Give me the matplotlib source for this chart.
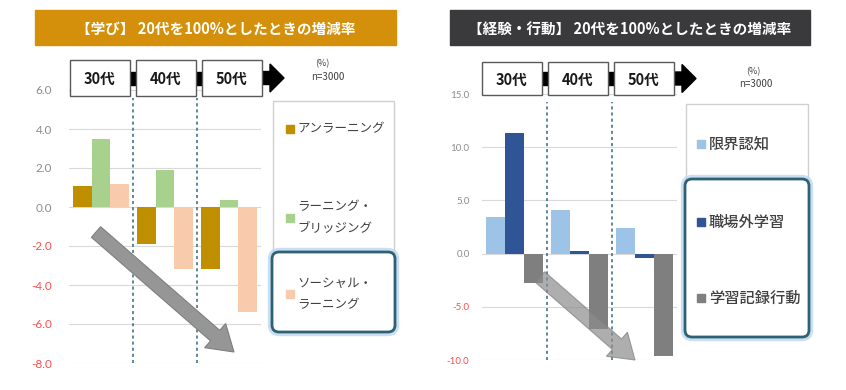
import numpy as np
import matplotlib
matplotlib.use("Agg")
import matplotlib.pyplot as plt
from matplotlib.patches import Rectangle, FancyBboxPatch, FancyArrow, Polygon

plt.rcParams['font.family'] = ['Noto Sans CJK JP', 'DejaVu Sans']

# data
ages = ["30代", "40代", "50代"]

left_title = "【学び】 20代を100%としたときの増減率"
left_names = ["アンラーニング", "ラーニング・\nブリッジング", "ソーシャル・\nラーニング"]
left_values = [
    [1.1, -1.9, -3.2],
    [3.5, 1.9, 0.35],
    [1.2, -3.2, -5.4],
]
left_colors = ["#BF8F00", "#A9D18E", "#F8CBAD"]
left_ticks = [6.0, 4.0, 2.0, 0.0, -2.0, -4.0, -6.0, -8.0]

right_title = "【経験・行動】 20代を100%としたときの増減率"
right_names = ["限界認知", "職場外学習", "学習記録行動"]
right_values = [
    [3.4, 4.1, 2.4],
    [11.3, 0.2, -0.4],
    [-2.8, -7.1, -9.6],
]
right_colors = ["#9DC3E6", "#2F5597", "#7F7F7F"]
right_ticks = [15.0, 10.0, 5.0, 0.0, -5.0, -10.0]

W, H = 846, 390
fig = plt.figure(figsize=(W / 100, H / 100), dpi=100)


def px_axes(x0, y0, x1, y1):
    return fig.add_axes([x0 / W, 1 - y1 / H, (x1 - x0) / W, (y1 - y0) / H])


def draw_bars(ax, values, colors, ticks, pad, tsize):
    x = np.arange(len(ages))
    w = 0.29
    for i, (vals, c) in enumerate(zip(values, colors)):
        ax.bar(x + (i - 1) * w, vals, w, color=c, zorder=2)
    ax.set_xlim(-0.5, len(ages) - 0.5)
    ax.set_ylim(min(ticks), max(ticks))
    ax.set_yticks(ticks)
    ax.set_yticklabels([f"{t:.1f}" for t in ticks], fontsize=tsize, family=['Lato', 'DejaVu Sans'])
    for lab, t in zip(ax.get_yticklabels(), ticks):
        lab.set_color("#FF4B4B" if t < 0 else "#8C8C8C")
    ax.tick_params(axis='y', length=0, pad=pad)
    ax.set_xticks([])
    for s in ax.spines.values():
        s.set_visible(False)
    ax.grid(axis='y', color="#D9D9D9", lw=0.8, zorder=0)
    for b in [0.5, 1.5]:
        ax.axvline(b, ymin=0, ymax=0.97, color="#35677A", lw=1.1, ls=(0, (2, 2)), zorder=3)


axL = px_axes(69, 90, 261, 363)
draw_bars(axL, left_values, left_colors, left_ticks, 12, 8.5)
axR = px_axes(482, 94, 677, 360)
draw_bars(axR, right_values, right_colors, right_ticks, 9, 7)

# overlay in pixel coordinates
ov = fig.add_axes([0, 0, 1, 1])
ov.set_xlim(0, W)
ov.set_ylim(H, 0)
ov.axis('off')


def header(x0, x1, color, text):
    ov.add_patch(Rectangle((x0, 10), x1 - x0, 35, color=color))
    ov.text((x0 + x1) / 2, 28.5, text, color="white", fontsize=10.5, fontweight='bold',
            ha='center', va='center')


def age_boxes(x0, y0, y1):
    bw, gap = 60, 6
    ym = (y0 + y1) / 2
    for i, a in enumerate(ages):
        bx = x0 + i * (bw + gap)
        if i > 0:
            ov.add_patch(Rectangle((bx - gap - 1, ym - 6.5), gap + 2, 13, color="black"))
        ov.add_patch(Rectangle((bx, y0), bw, y1 - y0, facecolor="white",
                               edgecolor="#595959", lw=1.0, zorder=3))
        ov.text(bx + bw / 2, ym + 1, a, fontsize=10.5, fontweight='bold', color="#1A1A1A",
                ha='center', va='center', zorder=4)
    ax_end = x0 + 3 * bw + 2 * gap
    ov.add_patch(Polygon([(ax_end, ym - 6.5), (ax_end + 8, ym - 6.5), (ax_end + 8, ym - 14),
                          (ax_end + 22, ym), (ax_end + 8, ym + 14), (ax_end + 8, ym + 6.5),
                          (ax_end, ym + 6.5)], closed=True, color="black"))


def legend_panel(x0, x1, y0, y1, hy0, hy1):
    ov.add_patch(Rectangle((x0, y0), x1 - x0, y1 - y0, facecolor="white",
                           edgecolor="#D0D0D0", lw=1.0, zorder=1))
    for lw, c, a in [(6, "#BDD7EE", 0.8), (2, "#2F6175", 1)]:
        ov.add_patch(FancyBboxPatch((x0 - 1 + 4, hy0 + 4), x1 - x0 + 2 - 8, hy1 - hy0 - 8,
                                    boxstyle="round,pad=4,rounding_size=7",
                                    facecolor="white", edgecolor=c, lw=lw, alpha=a, zorder=2))


# left panel
header(35, 396, "#D4900A", left_title)
age_boxes(70, 60, 96)
ov.text(322, 64, "(%)", fontsize=6.5, color="#404040", ha='center', va='center')
ov.text(328, 77, "n=3000", fontsize=7, color="#404040", ha='center', va='center')
legend_panel(273, 394, 101, 330, 252, 332)
for name, c, y in zip(left_names, left_colors, [129, 218, 294]):
    ov.add_patch(Rectangle((286, y - 4), 8, 8, color=c, zorder=5))
    ov.text(297, y, name, fontsize=9, color="#404040", va='center', ha='left',
            linespacing=1.9, zorder=5)
ov.add_patch(FancyArrow(96, 232, 138, 120, width=14, head_width=32, head_length=25,
                        length_includes_head=True, facecolor="#969696",
                        edgecolor="#7F7F7F", lw=0.8, zorder=6))

# right panel
header(450, 810, "#3A3A3C", right_title)
age_boxes(482, 62, 95)
ov.text(753, 72, "(%)", fontsize=6.5, color="#404040", ha='center', va='center')
ov.text(756, 84, "n=3000", fontsize=7, color="#404040", ha='center', va='center')
legend_panel(686, 808, 104, 337, 179, 337)
for name, c, y in zip(right_names, right_colors, [144, 222, 298]):
    ov.add_patch(Rectangle((697, y - 4), 8, 8, color=c, zorder=5))
    ov.text(709, y, name, fontsize=11, fontweight='medium', color="#404040",
            va='center', ha='left', zorder=5)
ov.add_patch(FancyArrow(540, 277, 95, 83, width=14, head_width=32, head_length=24,
                        length_includes_head=True, facecolor="#8C8C8C",
                        edgecolor="#7F7F7F", alpha=0.7, lw=0.8, zorder=6))

fig.savefig("out.png", dpi=100)
